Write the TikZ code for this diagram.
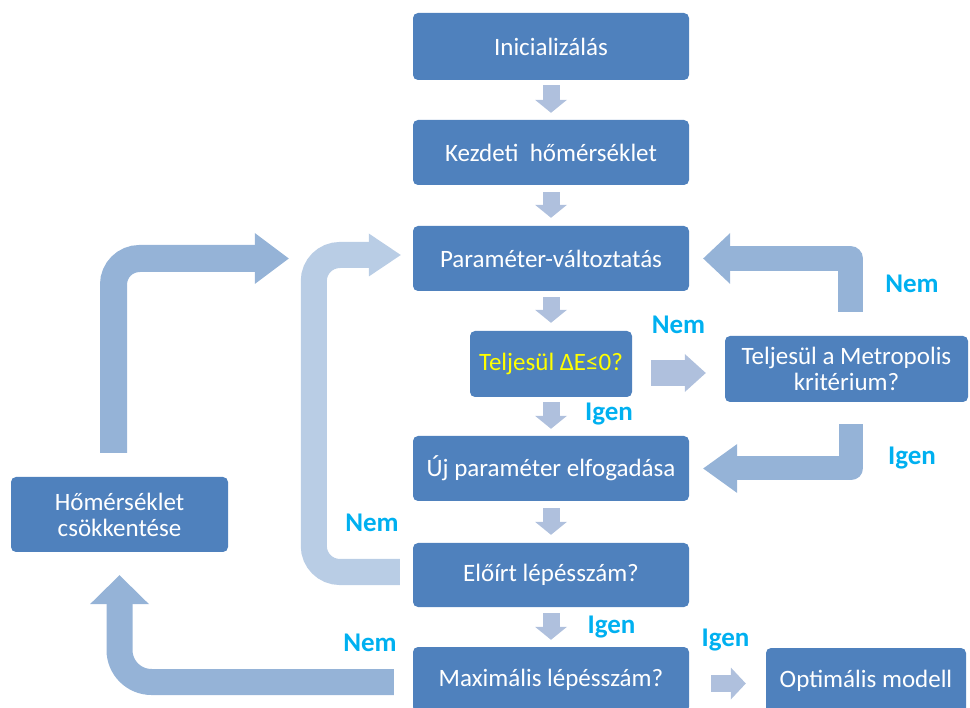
\documentclass[tikz,border=0pt]{standalone}
\usepackage{fontspec}
\setmainfont{Carlito}
\usetikzlibrary{arrows.meta,calc}
\definecolor{boxblue}{HTML}{4F81BD}
\definecolor{flowdark}{HTML}{95B3D7}
\definecolor{flowlight}{HTML}{B9CDE5}
\definecolor{stepgrey}{HTML}{AFC0DD}
\definecolor{answer}{HTML}{00B0F0}
\definecolor{condyellow}{HTML}{FFFF00}

\begin{document}
\begin{tikzpicture}[x=1pt,y=-1pt,
  proc/.style={fill=boxblue, rounded corners=5pt, text=white,
    font=\fontsize{25}{26}\selectfont, align=center, inner sep=0pt},
  answerlbl/.style={text=answer, font=\bfseries\fontsize{27}{27}\selectfont, inner sep=0pt},
  stepdown/.style={draw=stepgrey, line width=17pt,
    -{Triangle[length=13pt,width=32pt,line width=0pt]}},
  bigflow/.style={draw=flowdark},
]
\useasboundingbox (0,0) rectangle (970,708);
\clip (0,0) rectangle (970,708);

% process boxes
\node[proc, minimum width=276pt, minimum height=67pt] (init)   at (551,46.5)  {Inicializálás};
\node[proc, minimum width=276pt, minimum height=65pt] (kezd)   at (551,152.5) {Kezdeti\ \ hőmérséklet};
\node[proc, minimum width=276pt, minimum height=65pt] (param)  at (551,258.5) {Paraméter-változtatás};
\node[proc, minimum width=162pt, minimum height=66pt] (telj)   at (551,364)   {\textcolor{condyellow}{Teljesül ΔE≤0?}};
\node[proc, minimum width=243pt, minimum height=66pt] (metro)  at (846.5,369) {Teljesül a Metropolis\\kritérium?};
\node[proc, minimum width=276pt, minimum height=65pt] (uj)     at (551,468.5) {Új paraméter elfogadása};
\node[proc, minimum width=276pt, minimum height=64pt] (eloirt) at (551,575)   {Előírt lépésszám?};
\node[proc, minimum width=276pt, minimum height=65pt] (max)    at (551,679.5) {Maximális lépésszám?};
\node[proc, minimum width=200pt, minimum height=65pt] (opt)    at (866,680.5) {Optimális modell};
\node[proc, minimum width=217pt, minimum height=75pt] (hom)    at (119.5,514.5) {Hőmérséklet\\csökkentése};

% straight steps down the main column
\draw[stepdown] ($(init.south)+(0,5)$)   -- ($(kezd.north)+(0,-7)$);
\draw[stepdown] ($(kezd.south)+(0,7)$)   -- ($(param.north)+(0,-8)$);
\draw[stepdown] ($(param.south)+(0,6)$)  -- ($(telj.north)+(0,-8)$);
\draw[stepdown] ($(telj.south)+(0,5)$)   -- ($(uj.north)+(0,-7)$);
\draw[stepdown] ($(uj.south)+(0,7)$)     -- ($(eloirt.north)+(0,-8)$);
\draw[stepdown] ($(eloirt.south)+(0,6)$) -- ($(max.north)+(0,-7)$);

% sideways steps
\coordinate (s1) at ($(telj.east)+(19,9)$);
\draw[draw=stepgrey, line width=26pt, shorten >=19pt,
  -{Triangle[length=21pt,width=38pt,line width=0pt]}] (s1) -- (s1 -| metro.west);
\coordinate (s2) at ($(max.east)+(22,4)$);
\draw[draw=stepgrey, line width=17pt, shorten >=20pt,
  -{Triangle[length=15pt,width=32pt,line width=0pt]}] (s2) -- (s2 -| opt.west);

% Metropolis: rejected / accepted
\draw[bigflow, line width=25pt, line join=round, shorten >=14pt,
  -{Triangle[length=27pt,width=51pt,line width=0pt]}]
  (metro.north) ++(4,-24) |- (param.east);
\draw[bigflow, line width=24pt, line join=round, shorten >=14pt,
  -{Triangle[length=34pt,width=49pt,line width=0pt]}]
  (metro.south) ++(4.5,22) |- (uj.east);

% cooling loop back to the parameter change
\draw[bigflow, line width=27pt, rounded corners=26pt, shorten >=124pt,
  -{Triangle[length=34pt,width=51pt,line width=0pt]}]
  (hom.north) ++(-6,-24) |- (param.west);

% inner loop while the step count is not reached
\draw[draw=flowlight, line width=26pt, rounded corners=26pt,
  -{Triangle[length=32pt,width=43pt,line width=0pt]}]
  (eloirt.west) ++(-13,-3) -- ++(-86,0) |- ($(param.west)+(-12,-3.5)$);

% outer loop to the temperature decrease
\draw[bigflow, line width=26pt, rounded corners=32pt, shorten >=23pt,
  -{Triangle[length=29pt,width=59pt,line width=0pt]}]
  (max.west) ++(-19,2.5) -| (hom.south);

% answers
\node[answerlbl] (l1) at (912,284)   {Nem};
\node[answerlbl] (l2) at (678.5,325) {Nem};
\node[answerlbl] (l3) at (609,414)   {Igen};
\node[answerlbl] (l4) at (912,458)   {Igen};
\node[answerlbl] (l5) at (372,523)   {Nem};
\node[answerlbl] (l6) at (611.5,627) {Igen};
\node[answerlbl] (l7) at (370,643)   {Nem};
\node[answerlbl] (l8) at (725.5,640) {Igen};
\end{tikzpicture}
\end{document}
